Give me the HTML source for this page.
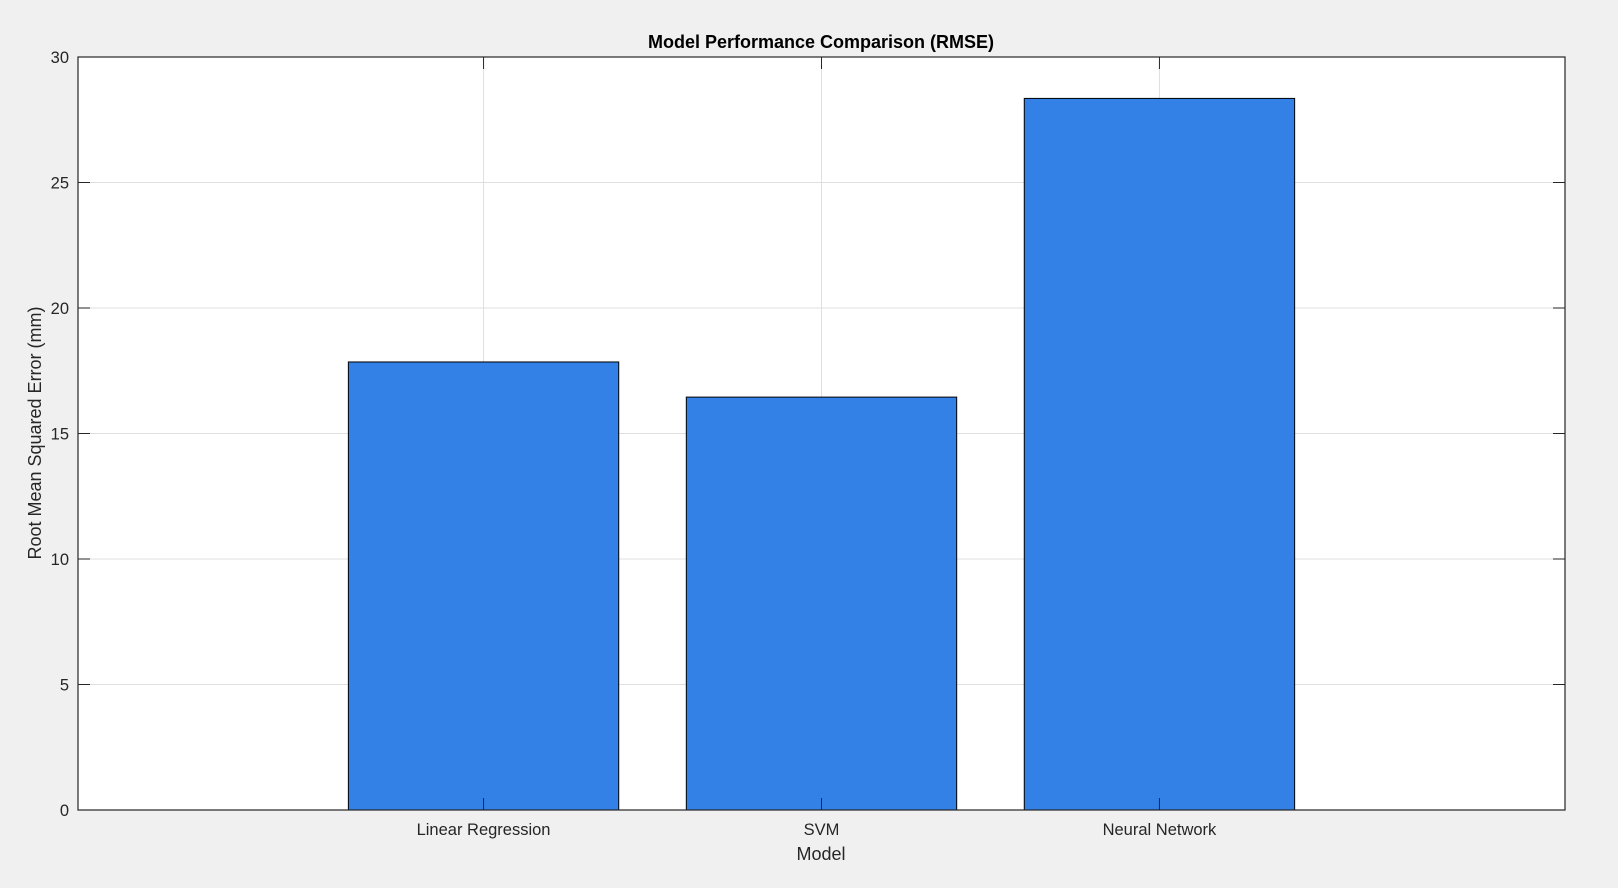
<!DOCTYPE html>
<html><head><meta charset="utf-8"><style>
html,body{margin:0;padding:0;background:#f0f0f0;}
svg{display:block;font-family:"Liberation Sans",Arial,sans-serif;}
</style></head><body>
<svg id="chart" width="1618" height="888" viewBox="0 0 1618 888">
<rect x="0" y="0" width="1618" height="888" fill="#f0f0f0"/>
<rect x="78" y="57" width="1487" height="753" fill="#ffffff"/>
<g id="grid"></g><g id="bars"></g><g id="ticks"></g>
<rect x="78" y="57" width="1487" height="753" fill="none" stroke="#262626" stroke-width="1.2"/>
<text x="821" y="48" text-anchor="middle" font-size="18" font-weight="bold" fill="#000">Model Performance Comparison (RMSE)</text>
<text x="821" y="860" text-anchor="middle" font-size="18" fill="#262626">Model</text>
<text transform="translate(41,433) rotate(-90)" text-anchor="middle" font-size="18" fill="#262626">Root Mean Squared Error (mm)</text>
</svg>
<script>
const categories = ["Linear Regression", "SVM", "Neural Network"];
const rmseValues = [17.85, 16.45, 28.35];
const yTickValues = [0, 5, 10, 15, 20, 25, 30];

const NS = "http://www.w3.org/2000/svg";
const L = 78, R = 1565, T = 57, B = 810;
const xMin = -0.2, xMax = 4.2, yMin = 0, yMax = 30;
const xs = v => L + (v - xMin) / (xMax - xMin) * (R - L);
const ys = v => B - (v - yMin) / (yMax - yMin) * (B - T);
function mk(tag, attrs, parent) {
  const e = document.createElementNS(NS, tag);
  for (const k in attrs) e.setAttribute(k, attrs[k]);
  parent.appendChild(e); return e;
}
const grid = document.getElementById('grid');
const bars = document.getElementById('bars');
const ticks = document.getElementById('ticks');
yTickValues.forEach(v => {
  const y = ys(v);
  const g = mk('line', {x1: L, x2: R, y1: y, y2: y, stroke: '#dfdfdf', 'stroke-width': 1}, grid);
  
  
  const t1 = mk('line', {x1: L, x2: L + 12, y1: y, y2: y, stroke: '#262626', 'stroke-width': 1}, ticks);
  
  
  const t2 = mk('line', {x1: R - 12, x2: R, y1: y, y2: y, stroke: '#262626', 'stroke-width': 1}, ticks);
  
  
  const lb = mk('text', {x: L - 9, y: y + 6, 'text-anchor': 'end', 'font-size': 16.5, fill: '#262626'}, ticks);
  lb.textContent = v;
  
  
});
categories.forEach((c, i) => {
  const x = xs(i + 1);
  const g = mk('line', {x1: x, x2: x, y1: T, y2: B, stroke: '#dfdfdf', 'stroke-width': 1}, grid);
  
  
  const w = xs(0.4) - xs(0);
  const b = mk('rect', {x: x - w, y: ys(rmseValues[i]), width: 2 * w, height: ys(0) - ys(rmseValues[i]), fill: '#3380e6', stroke: '#000', 'stroke-width': 1}, bars);
  
  
  const t1 = mk('line', {x1: x, x2: x, y1: B - 12, y2: B, stroke: '#262626', 'stroke-width': 1}, ticks);
  
  
  const t2 = mk('line', {x1: x, x2: x, y1: T, y2: T + 12, stroke: '#262626', 'stroke-width': 1}, ticks);
  
  
  const lb = mk('text', {x: x, y: B + 25, 'text-anchor': 'middle', 'font-size': 16.5, fill: '#262626'}, ticks);
  lb.textContent = c;
  
  
});
</script>
</body></html>
